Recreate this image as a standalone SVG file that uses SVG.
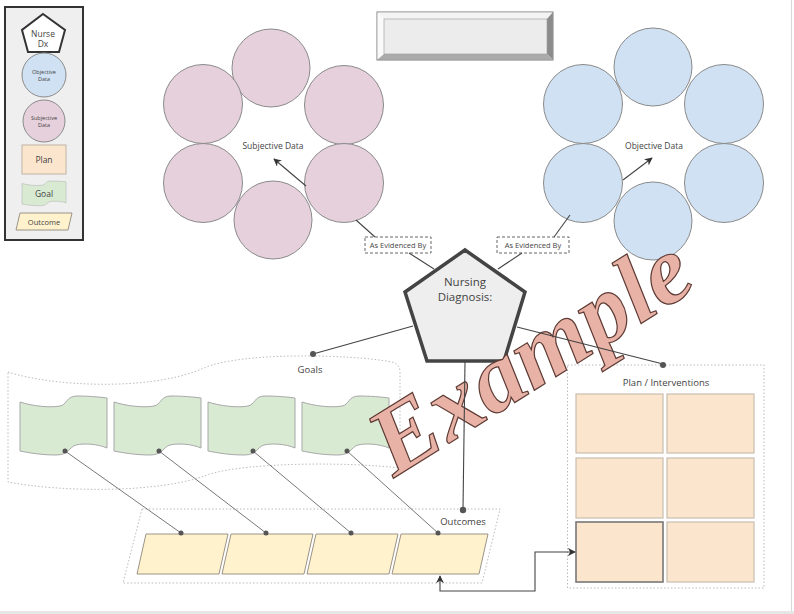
<svg xmlns="http://www.w3.org/2000/svg" xmlns:xlink="http://www.w3.org/1999/xlink" width="794" height="614" viewBox="0 0 794 614">
<style>
text{font-family:"Open Sans","Liberation Sans",sans-serif;fill:#444;text-anchor:middle}
.subj{fill:#e6d0dc;stroke:#8a8a8a;stroke-width:1}
.obj{fill:#cfe1f2;stroke:#8a8a8a;stroke-width:1}
.goal{fill:#d9ead3;stroke:#a8a8a8;stroke-width:1}
.out{fill:#fff2cc;stroke:#9a9488;stroke-width:1}
.plan{fill:#fce5cd;stroke:#c8bcb0;stroke-width:1.2}
.dotted{fill:none;stroke:#bbb;stroke-width:1;stroke-dasharray:1.5 2}
.dashed{fill:#fff;stroke:#555;stroke-width:0.9;stroke-dasharray:3 2}
.ln{fill:none;stroke:#444;stroke-width:1.1}
.thin{fill:none;stroke:#555;stroke-width:0.8}
.dot{fill:#555}
text.wm{font-family:"Liberation Serif","DejaVu Serif",serif;font-style:italic;font-weight:bold;text-anchor:start;fill:#e8b2a6;stroke:#5e3b34;stroke-width:1.2}
</style>
<defs>
<path id="goalShape" d="M0,6 C12,10 30,12 40,10 C47,9 46,0 57,0 C68,0 80,1 87,2 L87,52 C78,48 64,47 56,49 C49,51 49,59 36,59 C22,59 10,57 0,55 Z"/>
<marker id="arr" viewBox="0 0 10 10" refX="9" refY="5" markerWidth="8" markerHeight="8" markerUnits="userSpaceOnUse" orient="auto">
<path d="M0,0 L10,5 L0,10 L3,5 Z" fill="#333"/>
</marker>
<marker id="arrUp" viewBox="0 0 10 10" refX="9" refY="5" markerWidth="8" markerHeight="8" markerUnits="userSpaceOnUse" orient="auto-start-reverse">
<path d="M0,0 L10,5 L0,10 L3,5 Z" fill="#333"/>
</marker>
</defs>
<rect x="0" y="0" width="794" height="614" fill="#fff"/>
<rect x="0" y="611" width="794" height="3" fill="#e6e6e6"/>
<line x1="791.5" y1="0" x2="791.5" y2="611" stroke="#d8d8d8" stroke-width="1"/>

<g id="legend">
<rect x="5" y="7" width="78" height="233" fill="#efefef" stroke="#333" stroke-width="2"/>
<polygon points="43,14 65,30 59,52 28,52 22,30" fill="#fff" stroke="#333" stroke-width="2"/>
<text x="43" y="37" font-size="8.5">Nurse</text>
<text x="43" y="47" font-size="8.5">Dx</text>
<circle cx="44" cy="75" r="22" class="obj"/>
<text x="44" y="74" font-size="5.5">Objective</text>
<text x="44" y="81" font-size="5.5">Data</text>
<circle cx="44" cy="121" r="21" class="subj"/>
<text x="44" y="120" font-size="5.5">Subjective</text>
<text x="44" y="127" font-size="5.5">Data</text>
<rect x="22" y="145" width="44" height="29" class="plan"/>
<text x="44" y="163" font-size="8.5">Plan</text>
<use xlink:href="#goalShape" class="goal" transform="translate(22,181) scale(0.506,0.42)"/>
<text x="44" y="197" font-size="8.5">Goal</text>
<polygon points="20,213 72,213 68,230 16,230" class="out"/>
<text x="44" y="225" font-size="7.5">Outcome</text>
</g>

<g id="title-box">
<rect x="377" y="12" width="176" height="48" fill="#ececec" stroke="#999" stroke-width="0.8"/>
<polygon points="377,12 553,12 547,19 384,19" fill="#f4f4f4"/>
<polygon points="377,12 384,19 384,54 377,60" fill="#fafafa"/>
<polygon points="553,12 553,60 547,54 547,19" fill="#8c8c8c"/>
<polygon points="377,60 553,60 547,54 384,54" fill="#ababab"/>
<rect x="384" y="19" width="163" height="35" fill="#ececec" stroke="#999" stroke-width="0.6"/>
<rect x="377" y="12" width="176" height="48" fill="none" stroke="#999" stroke-width="0.8"/>
</g>

<g id="subjective-data">
<circle cx="271" cy="68" r="39" class="subj"/>
<circle cx="203" cy="104" r="39.5" class="subj"/>
<circle cx="344" cy="105" r="39.5" class="subj"/>
<circle cx="203" cy="183" r="39.5" class="subj"/>
<circle cx="344" cy="183" r="39.5" class="subj"/>
<circle cx="273" cy="220" r="39" class="subj"/>
<text x="273" y="149" font-size="8.5">Subjective Data</text>
</g>

<g id="objective-data">
<circle cx="653" cy="67" r="39" class="obj"/>
<circle cx="583" cy="104" r="39.5" class="obj"/>
<circle cx="724" cy="104" r="39.5" class="obj"/>
<circle cx="583" cy="183" r="39.5" class="obj"/>
<circle cx="724" cy="183" r="39.5" class="obj"/>
<circle cx="653" cy="221" r="39" class="obj"/>
<text x="654" y="149" font-size="8.5">Objective Data</text>
</g>

<g id="aeb-left">
<rect x="365" y="237" width="66" height="16" class="dashed"/>
<text x="398" y="248" font-size="7.5">As Evidenced By</text>
</g>
<g id="aeb-right">
<rect x="497" y="237" width="72" height="16" class="dashed"/>
<text x="533" y="248" font-size="7.5">As Evidenced By</text>
</g>

<g id="goals-container">
<path d="M8,372 C50,386 150,392 204,368 C240,352 350,354 392,362 Q400,364 400,372 L400,468 C350,462 250,462 210,474 C160,494 60,492 8,482 Z" class="dotted"/>
<text x="310" y="373" font-size="9.5">Goals</text>
</g>
<g id="goal-1"><use xlink:href="#goalShape" class="goal" transform="translate(20,396)"/></g>
<g id="goal-2"><use xlink:href="#goalShape" class="goal" transform="translate(114,396)"/></g>
<g id="goal-3"><use xlink:href="#goalShape" class="goal" transform="translate(208,396)"/></g>
<g id="goal-4"><use xlink:href="#goalShape" class="goal" transform="translate(302,396)"/></g>

<g id="outcomes-container">
<polygon points="142,509 500,509 482,583 123,583" class="dotted"/>
<text x="463" y="525" font-size="9.5">Outcomes</text>
</g>
<g id="outcome-1"><polygon points="146,534 228,534 219,574 137,574" class="out"/></g>
<g id="outcome-2"><polygon points="231,534 313,534 304,574 222,574" class="out"/></g>
<g id="outcome-3"><polygon points="316,534 398,534 389,574 307,574" class="out"/></g>
<g id="outcome-4"><polygon points="401,534 488,534 479,574 392,574" class="out"/></g>

<g id="plan-container">
<rect x="567.5" y="365" width="196.5" height="223" class="dotted"/>
<text x="666" y="386" font-size="9.5">Plan / Interventions</text>
</g>
<g id="plan-1"><rect x="576" y="394" width="87" height="59" class="plan"/></g>
<g id="plan-2"><rect x="667" y="394" width="87" height="59" class="plan"/></g>
<g id="plan-3"><rect x="576" y="458" width="87" height="60" class="plan"/></g>
<g id="plan-4"><rect x="667" y="458" width="87" height="60" class="plan"/></g>
<g id="plan-5"><rect x="576" y="522" width="87" height="60" fill="#fce5cd" stroke="#777" stroke-width="1.6"/></g>
<g id="plan-6"><rect x="667" y="522" width="87" height="60" class="plan"/></g>

<g id="nursing-diagnosis">
<polygon points="465,250 525,292 504,361 427,361 405,292" fill="#eeeeee" stroke="#444" stroke-width="3.5" stroke-linejoin="miter"/>
<text x="465" y="286" font-size="11.5">Nursing</text>
<text x="465" y="301" font-size="11.5">Diagnosis:</text>
</g>

<g id="watermark">
<text class="wm" transform="translate(394,478) rotate(-32)" x="0" y="0" font-size="96" textLength="360" lengthAdjust="spacingAndGlyphs">Example</text>
</g>

<g id="connectors">
<line x1="306" y1="186" x2="274" y2="159" class="ln" marker-end="url(#arr)"/>
<line x1="623" y1="180" x2="652" y2="158" class="ln" marker-end="url(#arr)"/>
<line x1="356" y1="220" x2="375" y2="237" class="ln"/>
<line x1="409" y1="253" x2="434" y2="269" class="ln"/>
<line x1="570" y1="215" x2="554" y2="237" class="ln"/>
<line x1="522" y1="253" x2="498" y2="269" class="ln"/>
<line x1="413" y1="326" x2="313" y2="354" class="ln"/>
<circle cx="313" cy="354" r="3" class="dot"/>
<line x1="517" y1="327" x2="663" y2="364" class="ln"/>
<circle cx="663" cy="365" r="3" class="dot"/>
<line x1="465" y1="362" x2="463" y2="509" class="ln"/>
<circle cx="463" cy="510" r="3.2" class="dot"/>
<line x1="65" y1="451" x2="181" y2="533" class="thin"/>
<line x1="159" y1="451" x2="266" y2="533" class="thin"/>
<line x1="253" y1="451" x2="351" y2="533" class="thin"/>
<line x1="347" y1="451" x2="438" y2="533" class="thin"/>
<circle cx="65" cy="451" r="2.5" class="dot"/>
<circle cx="159" cy="451" r="2.5" class="dot"/>
<circle cx="253" cy="451" r="2.5" class="dot"/>
<circle cx="347" cy="451" r="2.5" class="dot"/>
<circle cx="181" cy="533" r="2.5" class="dot"/>
<circle cx="266" cy="533" r="2.5" class="dot"/>
<circle cx="351" cy="533" r="2.5" class="dot"/>
<circle cx="438" cy="533" r="2.5" class="dot"/>
<path d="M440,576 L440,591 L535,591 L535,552 L575,552" class="ln" stroke-width="1.4" marker-start="url(#arrUp)" marker-end="url(#arr)"/>
</g>
</svg>
